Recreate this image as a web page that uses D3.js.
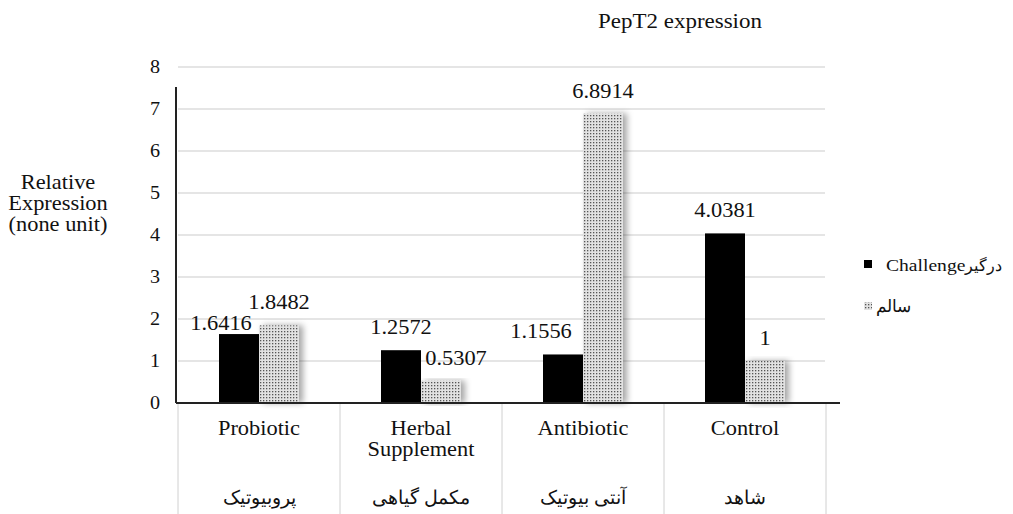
<!DOCTYPE html>
<html>
<head>
<meta charset="utf-8">
<script src="https://cdn.jsdelivr.net/npm/d3@7"></script>
<style>
  body { margin: 0; background: #fff; }
  text { font-family: "Liberation Serif", "Times New Roman", serif; fill: #111; }
</style>
</head>
<body>
<div id="chart"></div>
<script>
const categories = ["Probiotic", "Herbal|Supplement", "Antibiotic", "Control"];
const categoriesFa = ["پروبیوتیک", "مکمل گیاهی", "آنتی بیوتیک", "شاهد"];
const seriesNames = ["Challenge", "درگیر"];
const seriesNames2 = ["سالم"];
const challenge = [1.6416, 1.2572, 1.1556, 4.0381];
const healthy = [1.8482, 0.5307, 6.8914, 1];
const yTicks = [0, 1, 2, 3, 4, 5, 6, 7, 8];
const chartTitle = "PepT2 expression";
const yTitle = ["Relative", "Expression", "(none unit)"];

(function() {
    const width = 1013;
    const height = 514;

    const svg = d3.select("#chart")
        .append("svg")
        .attr("width", width)
        .attr("height", height)
        .attr("viewBox", [0, 0, width, height]);

    // dotted fill + soft shadow for the second series
    const defs = svg.append("defs");
    const pat = defs.append("pattern")
        .attr("id", "dots")
        .attr("patternUnits", "userSpaceOnUse")
        .attr("width", 3)
        .attr("height", 3);
    pat.append("rect").attr("width", 3).attr("height", 3).attr("fill", "#e2e2e2");
    pat.append("rect").attr("x", 1).attr("y", 1).attr("width", 1.3).attr("height", 1.3).attr("fill", "#555");

    const shadow = defs.append("filter")
        .attr("id", "shadow")
        .attr("x", "-20%").attr("y", "-10%")
        .attr("width", "160%").attr("height", "120%");
    shadow.append("feDropShadow")
        .attr("dx", 4).attr("dy", 0)
        .attr("stdDeviation", 3)
        .attr("flood-color", "#000")
        .attr("flood-opacity", 0.35);

    const sx = 1.12; // the reference text is a bit wider than plain Times

    function label(g, x, y, str, size, anchor) {
        return g.append("text")
            .attr("transform", `translate(${x},${y}) scale(${sx},1)`)
            .attr("text-anchor", anchor || "middle")
            .style("font-size", size + "px")
            .text(str);
    }

    const y = d3.scaleLinear().domain([0, 8]).range([403, 67]);
    const x = d3.scaleBand().domain(categories).range([178, 826]);
    const x1 = d3.scaleBand().domain([0, 1]).range([x.bandwidth() / 2 - 40, x.bandwidth() / 2 + 40]);

    // gridlines
    svg.append("g")
        .selectAll("line")
        .data(yTicks.slice(1))
        .join("line")
        .attr("x1", 178)
        .attr("x2", 825)
        .attr("y1", d => y(d))
        .attr("y2", d => y(d))
        .attr("stroke", "#dcdcdc")
        .attr("stroke-width", 1.3);

    // y tick labels
    const yg = svg.append("g");
    yTicks.forEach(t => label(yg, 160, y(t) + 6, t, 18, "end"));

    // category separators below the axis
    svg.append("g")
        .selectAll("line")
        .data(categories.map(c => x(c)).concat([x.range()[1]]))
        .join("line")
        .attr("x1", d => d)
        .attr("x2", d => d)
        .attr("y1", y(0))
        .attr("y2", height)
        .attr("stroke", "#d0d0d0")
        .attr("stroke-width", 1);

    const rows = categories.map((c, i) => ({ cat: c, vals: [challenge[i], healthy[i]] }));

    const groups = svg.append("g")
        .selectAll("g")
        .data(rows)
        .join("g")
        .attr("transform", d => `translate(${x(d.cat)},0)`);

    // healthy bars with shadow first, then the black ones on top
    groups.append("rect")
        .attr("x", x1(1))
        .attr("width", x1.bandwidth())
        .attr("y", d => y(d.vals[1]))
        .attr("height", d => y(0) - y(d.vals[1]))
        .attr("fill", "url(#dots)")
        .attr("filter", "url(#shadow)");

    groups.append("rect")
        .attr("x", x1(0))
        .attr("width", x1.bandwidth())
        .attr("y", d => y(d.vals[0]))
        .attr("height", d => y(0) - y(d.vals[0]))
        .attr("fill", "#000");

    // value labels (Excel nudged a few of them aside)
    const nudge = { "0-0": [-18, 12], "1-1": [15, 0], "2-0": [-22, 0] };
    rows.forEach((r, i) => {
        r.vals.forEach((v, s) => {
            const n = nudge[i + "-" + s] || [0, 0];
            const cx = x(r.cat) + x1(s) + x1.bandwidth() / 2 + n[0];
            label(svg, cx, y(v) - 16 + n[1], v, 20);
        });
    });

    // axes lines
    svg.append("line")
        .attr("x1", 176).attr("x2", 176)
        .attr("y1", 87).attr("y2", y(0))
        .attr("stroke", "#222").attr("stroke-width", 2);
    svg.append("line")
        .attr("x1", 176).attr("x2", 840)
        .attr("y1", y(0)).attr("y2", y(0))
        .attr("stroke", "#222").attr("stroke-width", 2);

    // category labels
    rows.forEach((r, i) => {
        const cx = x(r.cat) + x.bandwidth() / 2;
        const parts = r.cat.split("|");
        parts.forEach((p, k) => label(svg, cx, 435 + k * 21, p, 20));
        svg.append("text")
            .attr("x", cx)
            .attr("y", 504)
            .attr("text-anchor", "middle")
            .style("font-size", "19px")
            .text(categoriesFa[i]);
    });

    // titles
    label(svg, 680, 28, chartTitle, 20.5);
    yTitle.forEach((t, k) => label(svg, 58, 189 + k * 21, t, 20));

    // legend
    svg.append("rect").attr("x", 864).attr("y", 260).attr("width", 8).attr("height", 8).attr("fill", "#000");
    const lg = label(svg, 886, 271, seriesNames[0], 17.5, "start");
    const lw = lg.node().getComputedTextLength() * sx;
    svg.append("text")
        .attr("x", 886 + lw)
        .attr("y", 271)
        .style("font-size", "16px")
        .text(seriesNames[1]);
    svg.append("rect").attr("x", 864).attr("y", 302).attr("width", 8).attr("height", 8).attr("fill", "url(#dots)");
    svg.append("text")
        .attr("x", 876).attr("y", 312)
        .style("font-size", "17px")
        .text(seriesNames2[0]);
})();
</script>
</body>
</html>
